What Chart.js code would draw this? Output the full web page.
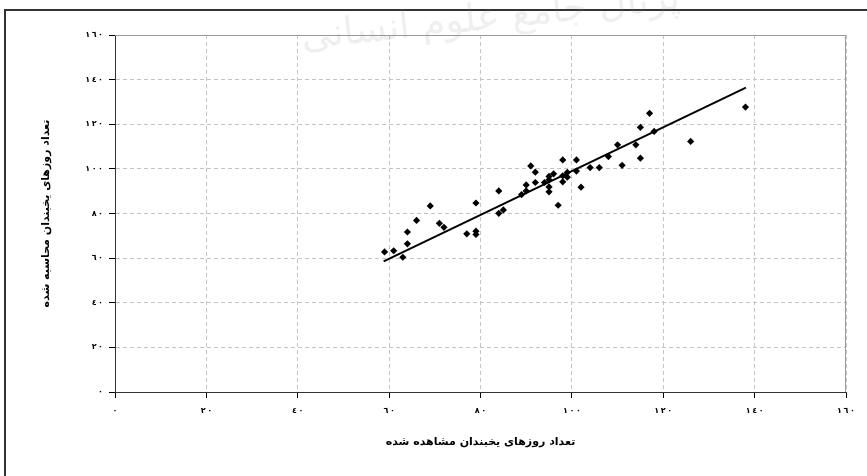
<!DOCTYPE html>
<html>
<head>
<meta charset="utf-8">
<script src="https://cdn.jsdelivr.net/npm/chart.js@4.4.1/dist/chart.umd.min.js"></script>
<style>
  html, body { margin: 0; padding: 0; background: #fff; }
  #wrap { position: relative; width: 867px; height: 476px; overflow: hidden; }
  #frame { position: absolute; left: 4px; top: 9px; width: 880px; height: 480px;
           border-left: 2px solid #333; border-top: 2px solid #333; pointer-events: none; }
  #mark { position: absolute; left: 300px; top: -6px; font: 38px "DejaVu Sans", sans-serif;
          color: rgba(140, 140, 140, 0.14); transform: rotate(-6deg); white-space: nowrap;
          pointer-events: none; }
  canvas { position: absolute; left: 0; top: 0; }
</style>
</head>
<body>
<div id="wrap">
  <canvas id="chart" width="867" height="476"></canvas>
  <div id="frame"></div>
  <div id="mark" dir="rtl">پرتال جامع علوم انسانی</div>
</div>
<script>
  const observedDays = [59, 61, 63, 64, 64, 66, 69, 71, 72, 77, 79, 79, 79, 84, 84, 85, 89, 90, 90, 91,
    92, 92, 94, 95, 95, 95, 95, 96, 97, 98, 98, 98, 99, 99, 101, 101, 102, 104, 106, 108,
    110, 111, 114, 115, 115, 117, 118, 126, 138];
  const computedDays = [62.8, 63.3, 60.4, 71.7, 66.4, 76.9, 83.4, 75.6, 73.8, 70.9, 72.1, 70.6, 84.7, 90.1, 80.1, 81.6, 88.5, 92.8, 90.1, 101.3,
    98.5, 93.9, 93.9, 96.6, 91.9, 89.7, 95.1, 97.8, 83.7, 104.0, 94.2, 96.9, 96.3, 98.4, 104.0, 99.0, 91.8, 100.6, 100.6, 105.5,
    110.8, 101.6, 110.8, 118.6, 104.8, 124.9, 116.8, 112.3, 127.7];
  const trendX = [58.8, 138.1];
  const trendY = [58.5, 136.4];
  const axisTicks = [0, 20, 40, 60, 80, 100, 120, 140, 160];
  const xTitle = "تعداد روزهای یخبندان مشاهده شده";
  const yTitle = "تعداد روزهای یخبندان محاسبه شده";

  // Arabic-Indic digits, spaced out; LRM keeps them in left-to-right order
  const arabicDigits = "٠١٢٣٤٥٦٧٨٩";
  const toArabic = (v) => String(v).split("").map((d) => arabicDigits[+d] + "\u200E").join("\u2009");

  const points = observedDays.map((x, i) => ({ x: x, y: computedDays[i] }));
  const trend = trendX.map((x, i) => ({ x: x, y: trendY[i] }));

  const gridColor = "#c4c4c4";
  const tickFont = { family: "'DejaVu Sans', sans-serif", size: 8, weight: "bold" };
  const titleFont = { family: "'DejaVu Sans', sans-serif", size: 11, weight: "bold" };

  const plotFrame = {
    id: "plotFrame",
    beforeDatasetsDraw(chart) {
      const a = chart.chartArea;
      const ctx = chart.ctx;
      ctx.save();
      ctx.strokeStyle = "#9a9a9a";
      ctx.lineWidth = 1;
      ctx.beginPath();
      ctx.moveTo(a.left, a.top + 0.5);
      ctx.lineTo(a.right - 0.5, a.top + 0.5);
      ctx.lineTo(a.right - 0.5, a.bottom);
      ctx.stroke();
      ctx.restore();
    }
  };

  function axis(title, isY) {
    return {
      type: "linear",
      min: 0,
      max: 160,
      afterBuildTicks(scale) {
        scale.ticks = axisTicks.map((v) => ({ value: v }));
      },
      afterFit(scale) {
        if (isY) scale.width = 115;
        else scale.height = 84;
      },
      ticks: {
        color: "#000",
        font: tickFont,
        padding: isY ? 6 : 8,
        maxRotation: 0,
        callback: (v) => toArabic(v)
      },
      grid: {
        color: gridColor,
        tickColor: "#000",
        tickLength: 6,
        tickBorderDash: []
      },
      border: { color: "#333", dash: [4, 3] },
      title: {
        display: true,
        text: title,
        color: "#000",
        font: titleFont,
        padding: isY ? { top: 40, bottom: 0 } : { top: 0, bottom: 27 }
      }
    };
  }

  new Chart(document.getElementById("chart"), {
    type: "scatter",
    data: {
      datasets: [
        {
          data: points,
          pointStyle: "rectRot",
          pointRadius: 3.6,
          backgroundColor: "#000",
          borderColor: "#000",
          borderWidth: 0
        },
        {
          type: "line",
          data: trend,
          borderColor: "#000",
          borderWidth: 2,
          pointRadius: 0,
          fill: false
        }
      ]
    },
    options: {
      responsive: false,
      animation: false,
      layout: { padding: { left: 0, top: 35, right: 21, bottom: 0 } },
      plugins: { legend: { display: false }, tooltip: { enabled: false } },
      scales: { x: axis(xTitle, false), y: axis(yTitle, true) }
    },
    plugins: [plotFrame]
  });
</script>
</body>
</html>
